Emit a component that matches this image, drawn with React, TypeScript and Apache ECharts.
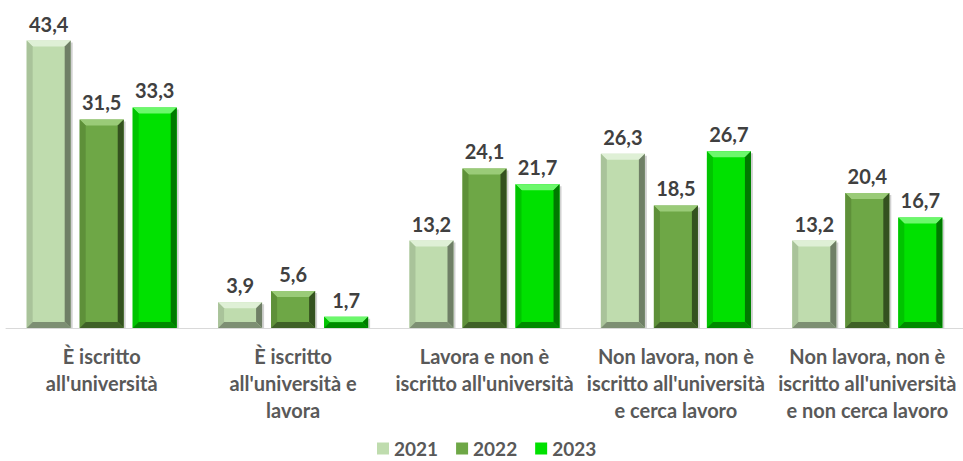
import React, { useEffect, useRef } from "react";
import * as echarts from "echarts";

const categories = [
  "È iscritto\nall'università",
  "È iscritto\nall'università e\nlavora",
  "Lavora e non è\niscritto all'università",
  "Non lavora, non è\niscritto all'università\ne cerca lavoro",
  "Non lavora, non è\niscritto all'università\ne non cerca lavoro",
];
const seriesNames = ["2021", "2022", "2023"];
const values2021 = [43.4, 3.9, 13.2, 26.3, 13.2];
const values2022 = [31.5, 5.6, 24.1, 18.5, 20.4];
const values2023 = [33.3, 1.7, 21.7, 26.7, 16.7];

const palettes = [
  { face: "#bfdcae", top: "#dff0d6", left: "#a9c39a", right: "#6f7f66", bottom: "#7d8f73" },
  { face: "#6ea746", top: "#9acb78", left: "#5e9039", right: "#34521f", bottom: "#3f6127" },
  { face: "#00e100", top: "#6cf86c", left: "#00c400", right: "#007a00", bottom: "#008a00" },
];

const FONT = "Lato, 'Open Sans', 'Noto Sans', sans-serif";

export default function App() {
  const ref = useRef<HTMLDivElement>(null);
  useEffect(() => {
    document.body.style.margin = "0";
    if (!ref.current) return;
    const chart = echarts.init(ref.current, undefined, { renderer: "svg" });
    const allValues = [values2021, values2022, values2023];

    const makeRender = (si: number) => (params: any, api: any) => {
      const cat = api.value(0);
      const val = api.value(1);
      const base = api.coord([cat, 0]);
      const topP = api.coord([cat, val]);
      const bandW = api.size([1, 0])[0];
      const w = bandW * 0.23;
      const step = bandW * 0.277;
      const cx = base[0] + (si - 1) * step;
      const x0 = cx - w / 2;
      const y0 = topP[1];
      const h = base[1] - topP[1];
      const b = Math.min(6, h / 2, w / 2);
      const p = palettes[si];
      const x1 = x0 + w;
      const y1 = y0 + h;
      return {
        type: "group",
        children: [
          {
            type: "rect",
            shape: { x: x0 + 2, y: y0 + 2, width: w, height: h - 2 },
            style: { fill: "rgba(0,0,0,0.18)" },
          },
          {
            type: "rect",
            shape: { x: x0, y: y0, width: w, height: h },
            style: { fill: p.face },
          },
          {
            type: "polygon",
            shape: { points: [[x0, y0], [x1, y0], [x1 - b, y0 + b], [x0 + b, y0 + b]] },
            style: { fill: p.top },
          },
          {
            type: "polygon",
            shape: { points: [[x0, y0], [x0 + b, y0 + b], [x0 + b, y1 - b], [x0, y1]] },
            style: { fill: p.left },
          },
          {
            type: "polygon",
            shape: { points: [[x1, y0], [x1, y1], [x1 - b, y1 - b], [x1 - b, y0 + b]] },
            style: { fill: p.right },
          },
          {
            type: "polygon",
            shape: { points: [[x0, y1], [x1, y1], [x1 - b, y1 - b], [x0 + b, y1 - b]] },
            style: { fill: p.bottom },
          },
          {
            type: "text",
            style: {
              text: String(val).replace(".", ","),
              x: cx,
              y: y0 - 7,
              align: "center",
              verticalAlign: "bottom",
              fontFamily: FONT,
              fontSize: 20,
              fontWeight: "bold",
              fill: "#404040",
            },
          },
        ],
      };
    };

    chart.setOption({
      animation: false,
      grid: { left: 6, right: 0, top: 30, bottom: 133 },
      legend: {
        data: seriesNames,
        top: 439,
        left: 377,
        padding: 0,
        icon: "rect",
        itemWidth: 12,
        itemHeight: 12,
        itemGap: 18,
        textStyle: { fontFamily: FONT, fontSize: 19, fontWeight: "bold", color: "#595959" },
      },
      xAxis: {
        type: "category",
        data: categories,
        axisLine: { show: true, lineStyle: { color: "#d9d9d9", width: 1 } },
        axisTick: { show: false },
        axisLabel: {
          interval: 0,
          margin: 14,
          fontFamily: FONT,
          fontSize: 20,
          fontWeight: "bold",
          color: "#595959",
          lineHeight: 27,
        },
      },
      yAxis: { type: "value", min: 0, max: 45, show: false, splitLine: { show: false } },
      series: seriesNames.map((name, si) => ({
        name,
        type: "custom",
        itemStyle: { color: palettes[si].face },
        data: allValues[si].map((v, i) => [i, v]),
        encode: { x: 0, y: 1 },
        renderItem: makeRender(si),
      })),
    });
    return () => chart.dispose();
  }, []);
  return <div ref={ref} style={{ width: 963, height: 461 }} />;
}
